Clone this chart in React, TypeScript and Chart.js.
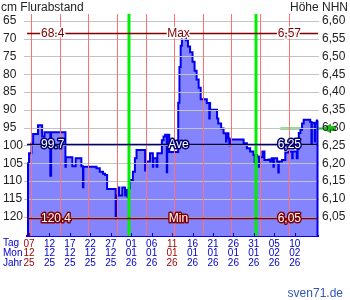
import React, { useEffect, useRef } from 'react';
import { Chart, registerables } from 'chart.js';
Chart.register(...registerables);

// time axis: days since 07.12.2025 00:00
const days = [
  0.0, 0.5, 1.1, 1.5, 2.7, 3.7, 4.3, 5.7, 5.9, 9.4, 9.5, 11.1, 11.9, 13.3, 13.7, 13.8,
  17.0, 17.8, 18.6, 19.1, 19.6, 21.7, 21.8, 22.3, 22.6, 23.3, 24.0, 24.2, 24.6, 24.9,
  25.2, 25.9, 26.4, 26.8, 28.9, 29.0, 30.1, 30.8, 30.9, 31.7, 31.9, 33.0, 33.4, 33.8,
  34.2, 34.3, 34.8, 37.0, 37.3, 37.6, 37.9, 38.3, 38.9, 39.4, 39.9, 40.5, 41.0, 41.5,
  42.0, 42.5, 44.0, 44.6, 44.7, 44.8, 46.5, 46.8, 47.5, 48.1, 48.7, 48.8, 49.3, 49.5,
  49.7, 53.0, 53.8, 54.6, 55.4, 55.7, 55.8, 56.3, 56.7, 56.8, 57.6, 58.1, 59.1, 59.5,
  59.9, 60.3, 60.4, 61.2, 61.5, 61.6, 62.4, 63.2, 64.0, 64.9, 65.0, 66.0, 66.2, 66.5,
  66.9, 67.3, 67.7, 69.3, 69.6, 69.7, 70.4, 70.5, 70.9, 71.2,
];
const flurabstand = [
  105.0, 102.2, 99.4, 96.8, 94.3, 97.5, 96.3, 108.5, 96.3, 106.0, 103.3, 105.8, 103.6, 105.8, 111.7, 106.0,
  106.4, 107.4, 107.9, 108.3, 112.2, 120.4, 114.0, 111.8, 114.0, 111.8, 114.0, 112.5, 114.4, 112.0,
  109.7, 107.4, 103.6, 101.3, 107.0, 104.5, 102.2, 106.0, 103.6, 106.0, 102.2, 98.5, 97.5, 97.0,
  107.5, 97.0, 101.8, 88.0, 78.0, 72.0, 68.4, 69.5, 70.5, 72.2, 73.8, 76.5, 79.0, 81.5,
  83.8, 87.0, 88.1, 92.4, 88.1, 90.0, 92.4, 93.8, 95.2, 96.6, 98.9, 96.6, 98.0, 99.9,
  98.3, 99.4, 100.8, 101.7, 102.7, 105.0, 102.7, 103.1, 106.0, 103.3, 101.7, 104.1, 103.9, 104.5,
  103.6, 106.0, 103.6, 104.5, 107.6, 104.5, 104.1, 102.0, 101.7, 103.6, 101.7, 103.6, 101.0, 96.5,
  95.6, 93.8, 92.8, 93.4, 99.4, 93.6, 98.9, 93.8, 93.0, 93.0,
];

const tickDays = [0.5, 5.5, 10.5, 15.5, 20.5, 25.5, 30.5, 35.5, 40.5, 45.5, 50.5, 55.5, 60.5, 65.5];
const tagLabels = ['07', '12', '17', '22', '27', '01', '06', '11', '16', '21', '26', '31', '05', '10'];
const monLabels = ['12', '12', '12', '12', '12', '01', '01', '01', '01', '01', '01', '01', '02', '02'];
const jahrLabels = ['25', '25', '25', '25', '25', '26', '26', '26', '26', '26', '26', '26', '26', '26'];
const sundayTicks = [true, false, false, false, false, false, false, true, false, false, false, false, false, false];
const mondayDays = [1, 8, 15, 22, 29, 36, 43, 50, 57, 64];
const monthStartDays = [25, 56];
const leftTicks = [65, 70, 75, 80, 85, 90, 95, 100, 105, 110, 115, 120];
const rightTicks = [6.05, 6.1, 6.15, 6.2, 6.25, 6.3, 6.35, 6.4, 6.45, 6.5, 6.55, 6.6];

const maxValue = 68.4;
const aveValue = 99.7;
const minValue = 120.4;
const currentValue = 95.2;
const currentFrom = 62.0;

const X_MIN = 0;
const X_MAX = 71.2;
const Y_TOP = 63.1;
const Y_BOTTOM = 125.4;
const NHN_BASE = 7.25;

const FONT = '"Liberation Sans", Arial, sans-serif';
const BLUE_TXT = '#0000cc';
const RED_TXT = '#990000';

const toNHN = (cm: number) => (NHN_BASE - cm / 100).toFixed(2).replace('.', ',');

const overlay = {
  id: 'overlay',
  beforeDraw(chart: any) {
    const { ctx, chartArea: ca, scales } = chart;
    const x = scales.x, y = scales.y;
    const yy = Math.round(y.getPixelForValue(currentValue)) + 0.5;
    ctx.save();
    ctx.strokeStyle = '#22bb22';
    ctx.fillStyle = '#22bb22';
    ctx.lineWidth = 2;
    ctx.beginPath();
    ctx.moveTo(x.getPixelForValue(currentFrom), yy);
    ctx.lineTo(ca.right + 6, yy);
    ctx.stroke();
    ctx.beginPath();
    ctx.moveTo(ca.right + 4, yy);
    ctx.lineTo(ca.right + 13, yy - 5);
    ctx.lineTo(ca.right + 13, yy + 5);
    ctx.closePath();
    ctx.fill();
    ctx.fillRect(ca.right + 13, yy - 2.5, 5, 5);
    ctx.restore();
  },
  afterDatasetsDraw(chart: any) {
    const { ctx, chartArea: ca, scales } = chart;
    const x = scales.x, y = scales.y;
    ctx.save();
    // horizontal grid
    ctx.strokeStyle = '#c4c4c4';
    ctx.lineWidth = 1;
    leftTicks.forEach((v) => {
      const py = Math.round(y.getPixelForValue(v)) + 0.5;
      ctx.beginPath();
      ctx.moveTo(ca.left - 3, py);
      ctx.lineTo(ca.right + 1, py);
      ctx.stroke();
    });
    // weekly lines
    ctx.strokeStyle = '#ff7070';
    mondayDays.forEach((d) => {
      const px = Math.round(x.getPixelForValue(d)) + 0.5;
      ctx.beginPath();
      ctx.moveTo(px, ca.top);
      ctx.lineTo(px, ca.bottom);
      ctx.stroke();
    });
    // month lines
    ctx.strokeStyle = '#00ee00';
    ctx.lineWidth = 3;
    monthStartDays.forEach((d) => {
      const px = Math.round(x.getPixelForValue(d));
      ctx.beginPath();
      ctx.moveTo(px, ca.top);
      ctx.lineTo(px, ca.bottom);
      ctx.stroke();
    });
    // edges of the area
    ctx.strokeStyle = '#0000ee';
    ctx.lineWidth = 2;
    const fx = x.getPixelForValue(days[0]);
    const fy = y.getPixelForValue(flurabstand[0]);
    const lx = x.getPixelForValue(days[days.length - 1]);
    const ly = y.getPixelForValue(flurabstand[flurabstand.length - 1]);
    ctx.beginPath();
    ctx.moveTo(fx + 1, ca.bottom);
    ctx.lineTo(fx + 1, fy);
    ctx.moveTo(lx - 0.5, ly);
    ctx.lineTo(lx - 0.5, ca.bottom);
    ctx.stroke();
    // tick marks
    ctx.lineWidth = 1;
    tickDays.forEach((d, i) => {
      const px = Math.round(x.getPixelForValue(d)) + 0.5;
      ctx.strokeStyle = sundayTicks[i] ? RED_TXT : BLUE_TXT;
      ctx.beginPath();
      ctx.moveTo(px, ca.bottom - 3);
      ctx.lineTo(px, ca.bottom);
      ctx.stroke();
    });
    // reference lines
    const refs = [
      { v: maxValue, name: 'Max', color: '#800000', dark: true },
      { v: aveValue, name: 'Ave', color: '#000070', dark: false },
      { v: minValue, name: 'Min', color: '#800000', dark: false },
    ];
    ctx.font = '12px ' + FONT;
    ctx.textBaseline = 'middle';
    ctx.lineJoin = 'round';
    refs.forEach((r) => {
      const py = Math.round(y.getPixelForValue(r.v)) + 0.5;
      ctx.strokeStyle = r.color;
      ctx.lineWidth = 1.5;
      ctx.beginPath();
      ctx.moveTo(ca.left, py);
      ctx.lineTo(ca.right, py);
      ctx.stroke();
      const items: [string, number, CanvasTextAlign][] = [
        [r.v.toFixed(1), ca.left + 14, 'left'],
        [r.name, (ca.left + ca.right) / 2 + 6, 'center'],
        [toNHN(r.v), ca.right - 17, 'right'],
      ];
      items.forEach(([t, tx, al]) => {
        ctx.textAlign = al;
        ctx.lineWidth = 3;
        ctx.strokeStyle = r.dark ? '#ffffff' : r.color;
        ctx.strokeText(t, tx, py + 0.5);
        ctx.fillStyle = r.dark ? r.color : '#ffffff';
        ctx.fillText(t, tx, py + 0.5);
      });
    });
    ctx.restore();
  },
  afterDraw(chart: any) {
    const { ctx } = chart;
    ctx.save();
    ctx.font = '12px ' + FONT;
    ctx.fillStyle = '#222222';
    ctx.textBaseline = 'alphabetic';
    ctx.textAlign = 'left';
    ctx.fillText('cm Flurabstand', 1, 10.5);
    ctx.textAlign = 'right';
    ctx.fillText('Höhe NHN', 348, 10.5);
    ctx.fillStyle = '#3355bb';
    ctx.fillText('sven71.de', 343, 297);
    ctx.font = '10px ' + FONT;
    ctx.fillStyle = BLUE_TXT;
    ctx.textAlign = 'left';
    ctx.textBaseline = 'middle';
    ctx.fillText('Tag', 3, 243.6);
    ctx.fillText('Mon', 3, 253.4);
    ctx.fillText('Jahr', 3, 263.2);
    ctx.restore();
  },
};

export default function App() {
  const ref = useRef<HTMLCanvasElement | null>(null);
  useEffect(() => {
    if (!ref.current) return;
    const chart = new Chart(ref.current, {
      type: 'line',
      data: {
        datasets: [
          {
            data: days.map((d, i) => ({ x: d, y: flurabstand[i] })),
            borderColor: '#0000ee',
            borderWidth: 2,
            backgroundColor: '#8484ff',
            fill: { value: Y_BOTTOM },
            stepped: 'before',
            pointRadius: 0,
            yAxisID: 'y',
            xAxisID: 'x',
          },
        ],
      },
      options: {
        animation: false,
        responsive: false,
        devicePixelRatio: 1,
        layout: { padding: { top: 14, left: 3, right: 0, bottom: 0 } },
        plugins: { legend: { display: false }, tooltip: { enabled: false } },
        scales: {
          x: {
            type: 'linear',
            position: 'bottom',
            min: X_MIN,
            max: X_MAX,
            afterFit: (s: any) => { s.height = 64; },
            afterBuildTicks: (s: any) => { s.ticks = tickDays.map((v) => ({ value: v })); },
            grid: { display: false, drawTicks: false },
            border: { display: true, color: '#0000ee', width: 2 },
            ticks: {
              autoSkip: false,
              maxRotation: 0,
              padding: 3,
              font: { family: FONT, size: 10, lineHeight: '9.8px' },
              color: (c: any) => (sundayTicks[c.index] ? RED_TXT : BLUE_TXT),
              callback: (_v: any, i: number) => [tagLabels[i], monLabels[i], jahrLabels[i]],
            },
          },
          y: {
            type: 'linear',
            position: 'left',
            reverse: true,
            min: Y_TOP,
            max: Y_BOTTOM,
            afterFit: (s: any) => { s.width = 24; },
            afterBuildTicks: (s: any) => { s.ticks = leftTicks.map((v) => ({ value: v })); },
            grid: { display: false, drawTicks: false },
            border: { display: false },
            ticks: {
              crossAlign: 'far',
              padding: 0,
              color: '#222222',
              font: { family: FONT, size: 12 },
              callback: (v: any) => String(v),
            },
          },
          y2: {
            type: 'linear',
            position: 'right',
            min: NHN_BASE - Y_BOTTOM / 100,
            max: NHN_BASE - Y_TOP / 100,
            afterFit: (s: any) => { s.width = 32; },
            afterBuildTicks: (s: any) => { s.ticks = rightTicks.map((v) => ({ value: v })); },
            grid: { display: false, drawTicks: false },
            border: { display: false },
            ticks: {
              padding: 4,
              color: '#222222',
              font: { family: FONT, size: 12 },
              callback: (v: any) => Number(v).toFixed(2).replace('.', ','),
            },
          },
        },
      },
      plugins: [overlay],
    } as any);
    return () => chart.destroy();
  }, []);
  return (
    <canvas
      ref={ref}
      width={350}
      height={300}
      style={{ position: 'absolute', left: 0, top: 0, width: 350, height: 300, display: 'block' }}
    />
  );
}
